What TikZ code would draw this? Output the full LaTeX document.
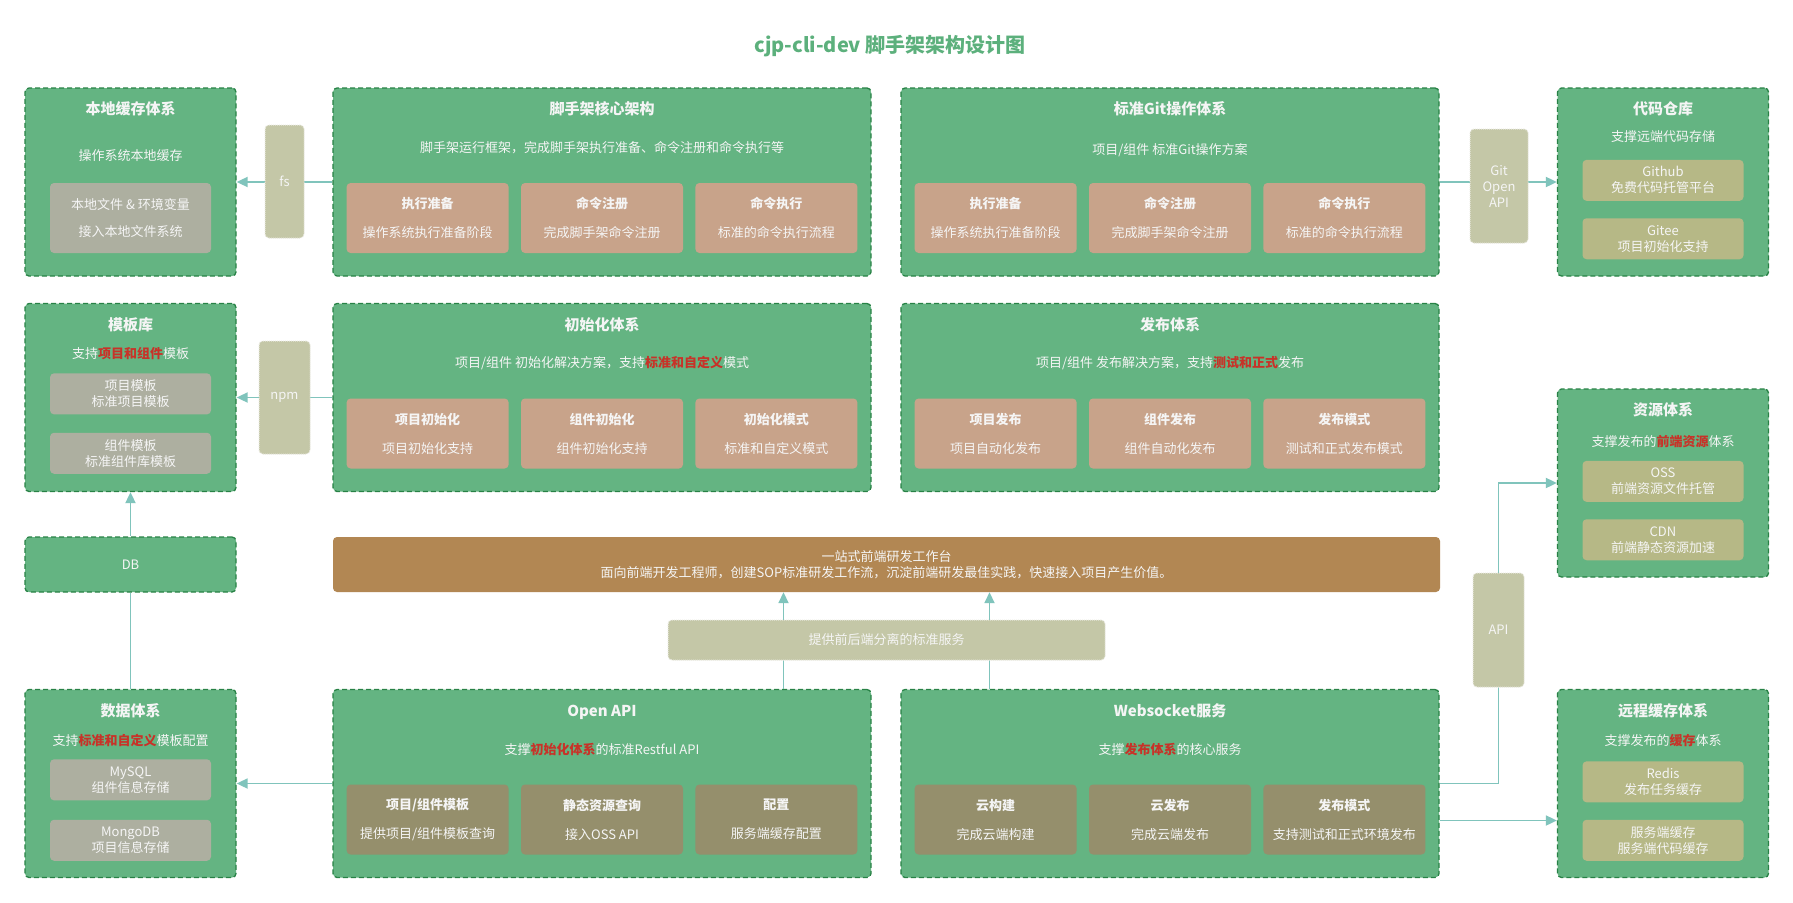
\documentclass[tikz,border=0pt]{standalone}
\usepackage{fontspec}
\setmainfont{Noto Sans CJK SC}
\usepackage{tikz}
\usetikzlibrary{positioning}
\usetikzlibrary{arrows.meta,calc}
\definecolor{sysgreen}{RGB}{100,180,130}
\definecolor{dkgreen}{RGB}{40,130,70}
\definecolor{modtan}{RGB}{200,163,138}
\definecolor{modolive}{RGB}{149,143,108}
\definecolor{itemgray}{RGB}{173,175,160}
\definecolor{itemolive}{RGB}{182,184,134}
\definecolor{tagfill}{RGB}{196,199,167}
\definecolor{tagline}{RGB}{232,232,222}
\definecolor{barbrown}{RGB}{178,135,83}
\definecolor{flowc}{RGB}{128,196,188}
\definecolor{titlec}{RGB}{92,176,124}
\definecolor{hotred}{RGB}{200,50,40}
\definecolor{txtc}{RGB}{245,245,245}
\newcommand{\redtxt}[1]{{\color{hotred}\bfseries #1}}
\tikzset{
    arch/.style={x=1pt, y=-1pt, >={Triangle[length=11pt,width=10pt]},
                 font=\fontsize{13}{16}\selectfont, text=txtc, node distance=12pt},
    sysbox/.style={draw=dkgreen, dash pattern=on 5pt off 3pt, line width=1.3pt,
                   fill=sysgreen, rounded corners=4pt, inner sep=0pt, minimum height=188pt},
    widebox/.style={sysbox, minimum width=538pt},
    sidebox/.style={sysbox, minimum width=211pt},
    modbox/.style={fill=modtan, rounded corners=4pt, inner sep=0pt, align=center,
                   minimum width=162pt, minimum height=70pt},
    dmodbox/.style={modbox, fill=modolive},
    itembox/.style={fill=itemgray, rounded corners=4pt, inner sep=0pt, align=center,
                    minimum width=161pt, minimum height=41pt},
    oitembox/.style={itembox, fill=itemolive},
    tagbox/.style={draw=tagline, densely dotted, line width=1pt, fill=tagfill,
                   rounded corners=4pt, inner sep=0pt, align=center},
    ttl/.style={font=\fontsize{15}{18}\selectfont\bfseries, text height=13pt, text depth=2pt},
    flow/.style={flowc, line width=1.8pt},
    }

\begin{document}
\begin{tikzpicture}[arch]
    \fill[white] (0,0) rectangle (1793,902);
    \useasboundingbox (0,0) rectangle (1793,902);

    \node[font=\fontsize{20}{24}\selectfont\bfseries, text=titlec] (title) at (890,46) {cjp-cli-dev 脚手架架构设计图};

    % row 1
    \node[sidebox] (cache) at (130.5,182) {};
    \node[ttl] (cache-t) at ($(cache.north)+(0,22)$) {本地缓存体系};
    \node (cache-s) at ($(cache.north)+(0,68)$) {操作系统本地缓存};
    \node[itembox, minimum height=70pt] (local) at ($(cache)+(0,36)$) {本地文件 \& 环境变量\\[11pt]接入本地文件系统};

    \node[widebox] (core) at (602,182) {};
    \node[ttl] (core-t) at ($(core.north)+(0,22)$) {脚手架核心架构};
    \node (core-s) at ($(core.north)+(0,60)$) {脚手架运行框架，完成脚手架执行准备、命令注册和命令执行等};
    \node[modbox] (core2) at ($(core)+(0,36)$) {\textbf{命令注册}\\[13pt]完成脚手架命令注册};
    \node[modbox] (core1) [left=of core2] {\textbf{执行准备}\\[13pt]操作系统执行准备阶段};
    \node[modbox] (core3) [right=of core2] {\textbf{命令执行}\\[13pt]标准的命令执行流程};

    \node[widebox] (git) at (1170,182) {};
    \node[ttl] (git-t) at ($(git.north)+(0,22)$) {标准Git操作体系};
    \node (git-s) at ($(git.north)+(0,63)$) {项目/组件 标准Git操作方案};
    \node[modbox] (git2) at ($(git)+(0,36)$) {\textbf{命令注册}\\[13pt]完成脚手架命令注册};
    \node[modbox] (git1) [left=of git2] {\textbf{执行准备}\\[13pt]操作系统执行准备阶段};
    \node[modbox] (git3) [right=of git2] {\textbf{命令执行}\\[13pt]标准的命令执行流程};

    \node[sidebox] (repo) at (1663,182) {};
    \node[ttl] (repo-t) at ($(repo.north)+(0,22)$) {代码仓库};
    \node (repo-s) at ($(repo.north)+(0,49)$) {支撑远端代码存储};
    \node[oitembox] (github) at ($(repo.north)+(0,93)$) {Github\\免费代码托管平台};
    \node[oitembox] (gitee) [below=17pt of github] {Gitee\\项目初始化支持};

    % row 2
    \node[sidebox] (tpl) at (130.5,397.5) {};
    \node[ttl] (tpl-t) at ($(tpl.north)+(0,22)$) {模板库};
    \node (tpl-s) at ($(tpl.north)+(0,51)$) {支持\redtxt{项目和组件}模板};
    \node[itembox] (ptpl) at ($(tpl.north)+(0,91)$) {项目模板\\标准项目模板};
    \node[itembox] (ctpl) [below=18pt of ptpl] {组件模板\\标准组件库模板};

    \node[widebox] (init) at (602,397.5) {};
    \node[ttl] (init-t) at ($(init.north)+(0,22)$) {初始化体系};
    \node (init-s) at ($(init.north)+(0,60)$) {项目/组件 初始化解决方案，支持\redtxt{标准和自定义}模式};
    \node[modbox] (init2) at ($(init)+(0,36)$) {\textbf{组件初始化}\\[13pt]组件初始化支持};
    \node[modbox] (init1) [left=of init2] {\textbf{项目初始化}\\[13pt]项目初始化支持};
    \node[modbox] (init3) [right=of init2] {\textbf{初始化模式}\\[13pt]标准和自定义模式};

    \node[widebox] (pub) at (1170,397.5) {};
    \node[ttl] (pub-t) at ($(pub.north)+(0,22)$) {发布体系};
    \node (pub-s) at ($(pub.north)+(0,60)$) {项目/组件 发布解决方案，支持\redtxt{测试和正式}发布};
    \node[modbox] (pub2) at ($(pub)+(0,36)$) {\textbf{组件发布}\\[13pt]组件自动化发布};
    \node[modbox] (pub1) [left=of pub2] {\textbf{项目发布}\\[13pt]项目自动化发布};
    \node[modbox] (pub3) [right=of pub2] {\textbf{发布模式}\\[13pt]测试和正式发布模式};

    \node[sidebox] (res) at (1663,483) {};
    \node[ttl] (res-t) at ($(res.north)+(0,22)$) {资源体系};
    \node (res-s) at ($(res.north)+(0,53)$) {支撑发布的\redtxt{前端资源}体系};
    \node[oitembox] (oss) at ($(res.north)+(0,93)$) {OSS\\前端资源文件托管};
    \node[oitembox] (cdn) [below=17pt of oss] {CDN\\前端静态资源加速};

    % middle
    \node[sysbox, minimum width=211pt, minimum height=55pt] (db) at (130.5,564.5) {DB};
    \node[fill=barbrown, rounded corners=4pt, inner sep=0pt, align=center,
          minimum width=1107pt, minimum height=55pt] (bar) at (886.5,564.5)
          {一站式前端研发工作台\\面向前端开发工程师，创建SOP标准研发工作流，沉淀前端研发最佳实践，快速接入项目产生价值。};

    % row 3
    \node[sidebox] (data) at (130.5,783.5) {};
    \node[ttl] (data-t) at ($(data.north)+(0,22)$) {数据体系};
    \node (data-s) at ($(data.north)+(0,52)$) {支持\redtxt{标准和自定义}模板配置};
    \node[itembox] (mysql) at ($(data.north)+(0,91)$) {MySQL\\组件信息存储};
    \node[itembox] (mongo) [below=19pt of mysql] {MongoDB\\项目信息存储};

    \node[widebox] (api) at (602,783.5) {};
    \node[ttl] (api-t) at ($(api.north)+(0,22)$) {Open API};
    \node (api-s) at ($(api.north)+(0,61)$) {支撑\redtxt{初始化体系}的标准Restful API};
    \node[dmodbox] (api2) at ($(api)+(0,36)$) {\textbf{静态资源查询}\\[13pt]接入OSS API};
    \node[dmodbox] (api1) [left=of api2] {\textbf{项目/组件模板}\\[13pt]提供项目/组件模板查询};
    \node[dmodbox] (api3) [right=of api2] {\textbf{配置}\\[13pt]服务端缓存配置};

    \node[widebox] (ws) at (1170,783.5) {};
    \node[ttl] (ws-t) at ($(ws.north)+(0,22)$) {Websocket服务};
    \node (ws-s) at ($(ws.north)+(0,61)$) {支撑\redtxt{发布体系}的核心服务};
    \node[dmodbox] (ws2) at ($(ws)+(0,36)$) {\textbf{云发布}\\[13pt]完成云端发布};
    \node[dmodbox] (ws1) [left=of ws2] {\textbf{云构建}\\[13pt]完成云端构建};
    \node[dmodbox] (ws3) [right=of ws2] {\textbf{发布模式}\\[13pt]支持测试和正式环境发布};

    \node[sidebox] (rcache) at (1663,783.5) {};
    \node[ttl] (rcache-t) at ($(rcache.north)+(0,22)$) {远程缓存体系};
    \node (rcache-s) at ($(rcache.north)+(0,52)$) {支撑发布的\redtxt{缓存}体系};
    \node[oitembox] (redis) at ($(rcache.north)+(0,93)$) {Redis\\发布任务缓存};
    \node[oitembox] (scache) [below=17pt of redis] {服务端缓存\\服务端代码缓存};

    % connectors
    \coordinate (up1) at ($(bar.south)+(-103,0)$);
    \coordinate (up2) at ($(bar.south)+(103,0)$);
    \coordinate (apix) at (1498.5,630);
    \path[flow,->] (core) edge (cache);
    \path[flow,->] (init) edge (tpl);
    \path[flow,->] (git) edge (repo);
    \path[flow,->] (db) edge (tpl);
    \path[flow] (data) edge (db);
    \path[flow,->] (api) edge (data);
    \path[flow,->] (api.north -| up1) edge (up1);
    \path[flow,->] (ws.north -| up2) edge (up2);
    \draw[flow,->] ($(ws.east)+(0,37)$) -- ($(rcache.west)+(0,37)$);
    \draw[flow,->] (ws.east) -| (apix) |- (res.west);

    % tags over the connectors
    \node[tagbox, minimum width=39pt, minimum height=113pt] (fs) at (284.5,181.5) {fs};
    \node[tagbox, minimum width=51pt, minimum height=113pt] (npm) at (284.5,397.5) {npm};
    \node[tagbox, minimum width=58pt, minimum height=114pt] (gitapi) at (1499,186) {Git\\Open\\API};
    \node[tagbox, minimum width=51pt, minimum height=114pt] (apil) at (apix) {API};
    \node[tagbox, minimum width=437pt, minimum height=40pt] (svc) at (886.5,640) {提供前后端分离的标准服务};
\end{tikzpicture}
\end{document}
